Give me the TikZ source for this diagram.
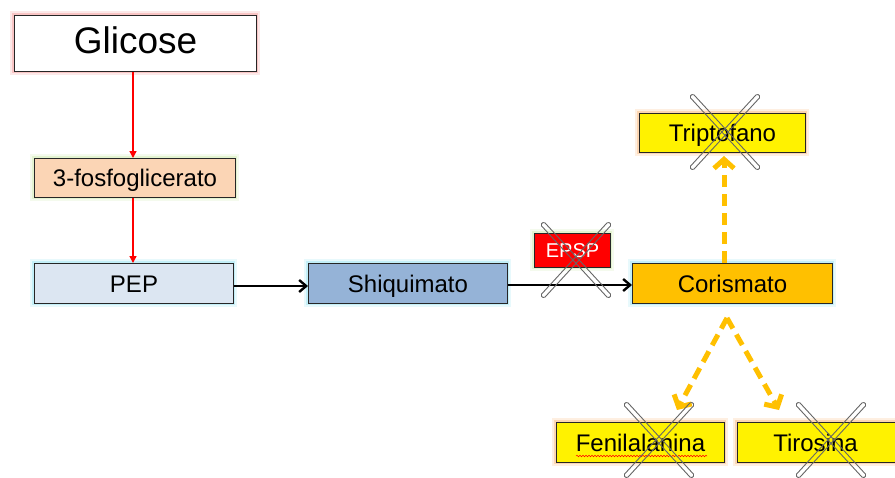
\documentclass[tikz,border=0pt]{standalone}
\usepackage{fontspec}
\setmainfont{Liberation Sans}
\usetikzlibrary{arrows.meta,decorations.pathmorphing}
\definecolor{peach}{HTML}{FBD5B5}
\definecolor{pepblue}{HTML}{DCE6F2}
\definecolor{shiblue}{HTML}{95B3D7}
\definecolor{coriso}{HTML}{FFC000}
\definecolor{glowred}{HTML}{F08080}
\definecolor{glowgreen}{HTML}{C3E59A}
\definecolor{glowcyan}{HTML}{7FDDF0}
\definecolor{gloworange}{HTML}{F9A85A}
\definecolor{crossgray}{HTML}{666666}
\tikzset{
  box/.style={draw=black!85, line width=1pt, inner sep=0pt, anchor=north west, text height=17.2pt, text depth=0pt, font=\fontsize{24}{27}\selectfont},
  glowA/.style={draw=#1, line width=8pt, opacity=0.18},
  glowB/.style={draw=#1, line width=4.5pt, opacity=0.35},
  redarrow/.style={draw=red, line width=1.5pt, -{Triangle[length=7pt,width=7pt]}},
  blackarrow/.style={draw=black, line width=2.4pt, -{Straight Barb[length=7pt,width=12pt,line width=2.4pt]}},
  orangearrow/.style={draw=coriso, line width=5pt, dash pattern=on 12pt off 7pt, -{Straight Barb[length=9pt,width=20pt,line width=5pt]}},
  crossbar/.style={draw=crossgray, line width=0.9pt, rounded corners=1.5pt}
}
\newcommand{\mycross}[2]{% center x, center y
  \draw[crossbar, shift={(#1,#2)}, rotate=47.4] (-50,-2.3) rectangle (50,2.3);
  \draw[crossbar, shift={(#1,#2)}, rotate=-47.4] (-50,-2.3) rectangle (50,2.3);
}
\newcommand{\glowrect}[3]{%
  \draw[glowA=#1] #2 rectangle #3;
  \draw[glowB=#1] #2 rectangle #3;
}
\begin{document}
\begin{tikzpicture}[x=1pt,y=-1pt]
\useasboundingbox (0,0) rectangle (895,477);
\begin{scope}
\clip (0,0) rectangle (895,477);
% glows
\glowrect{glowred}{(14,15)}{(256,71)}
\glowrect{glowgreen}{(34,158)}{(235,197)}
\glowrect{glowcyan}{(34,263)}{(233,303)}
\glowrect{glowcyan}{(308,263)}{(507,303)}
\glowrect{glowcyan}{(632,263)}{(832,303)}
\glowrect{glowgreen}{(534,233)}{(610,267)}
\glowrect{gloworange}{(639,113)}{(805,152)}
\glowrect{gloworange}{(556,422)}{(724,462)}
\glowrect{gloworange}{(737,422)}{(905,462)}
% boxes
\node[box, fill=white, minimum width=242pt, minimum height=56pt, text height=26.5pt, text depth=6pt, font=\fontsize{37}{40}\selectfont] (glicose) at (14,15) {Glicose};
\node[box, fill=peach, minimum width=201pt, minimum height=39pt] (fosfo) at (34,158) {3-fosfoglicerato};
\node[box, fill=pepblue, minimum width=199pt, minimum height=40pt] (pep) at (34,263) {PEP};
\node[box, fill=shiblue, minimum width=199pt, minimum height=40pt] (shiq) at (308,263) {Shiquimato};
\node[box, fill=coriso, minimum width=200pt, minimum height=40pt] (cori) at (632,263) {Corismato};
\node[box, fill=red, text=white, minimum width=76pt, minimum height=34pt, text height=14.3pt, font=\fontsize{20}{22}\selectfont] (epsp) at (534,233) {EPSP};
\node[box, fill=yellow, minimum width=166pt, minimum height=39pt] (trip) at (639,113) {Triptofano};
\node[box, fill=yellow, minimum width=168pt, minimum height=40pt] (feni) at (556,422) {Fenilalanina};
\node[box, fill=yellow, minimum width=168pt, minimum height=40pt] (tiro) at (737,422) {\hspace*{-12pt}Tirosina};
% spell-check underline
\draw[red, line width=0.5pt, decorate, decoration={snake, amplitude=0.8pt, segment length=3pt}] (576,456) -- (707,456);
% arrows
\draw[redarrow] (glicose.south -| 133,0) -- (fosfo.north -| 133,0);
\draw[redarrow] (fosfo.south -| 133,0) -- (pep.north -| 133,0);
\draw[blackarrow] (pep.east |- 0,286) -- (shiq.west |- 0,286);
\draw[blackarrow] (shiq.east |- 0,285) -- (cori.west |- 0,285);
\coordinate (apex) at (727,318);
\draw[orangearrow] (cori.north -| 724,0) -- ([yshift=-3pt]trip.south -| 724,0);
\draw[orangearrow] (apex) -- (677,410);
\draw[orangearrow] (apex) -- (779,410);
% crosses
\mycross{576}{260}
\mycross{725}{132}
\mycross{659}{440}
\mycross{831}{440}
\end{scope}
\end{tikzpicture}
\end{document}
